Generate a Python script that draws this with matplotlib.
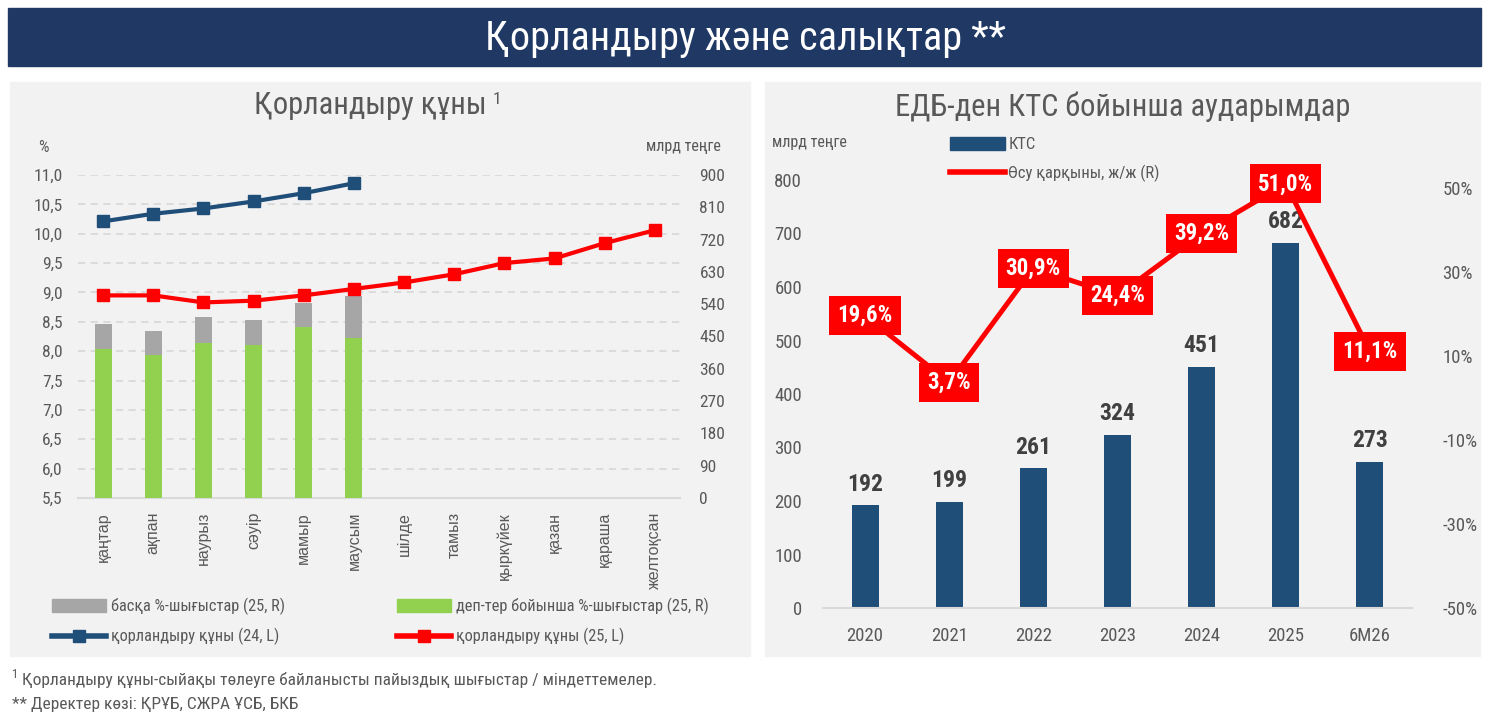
import matplotlib.pyplot as plt
from matplotlib.patches import Rectangle, Patch
from matplotlib.lines import Line2D
import numpy as np

plt.rcParams['font.family'] = ['Roboto Condensed', 'DejaVu Sans Condensed', 'Roboto', 'DejaVu Sans']

# left chart data
months = ['қаңтар', 'ақпан', 'наурыз', 'сәуір', 'мамыр', 'маусым',
          'шілде', 'тамыз', 'қыркүйек', 'қазан', 'қараша', 'желтоқсан']
rate_24 = [10.21, 10.34, 10.43, 10.55, 10.69, 10.86]
rate_25 = [8.95, 8.95, 8.83, 8.86, 8.95, 9.06, 9.17, 9.31, 9.50, 9.58, 9.84, 10.06]
dep_exp = [416, 399, 432, 425, 477, 445]
other_exp = [69, 67, 72, 71, 66, 119]
left_ticks = [5.5, 6.0, 6.5, 7.0, 7.5, 8.0, 8.5, 9.0, 9.5, 10.0, 10.5, 11.0]
right_ticks = [0, 90, 180, 270, 360, 450, 540, 630, 720, 810, 900]

# right chart data
years = ['2020', '2021', '2022', '2023', '2024', '2025', '6M26']
kts = [192, 199, 261, 324, 451, 682, 273]
growth = [19.6, 3.7, 30.9, 24.4, 39.2, 51.0, 11.1]
kts_ticks = [0, 100, 200, 300, 400, 500, 600, 700, 800]
growth_ticks = [-50, -30, -10, 10, 30, 50]

NAVY = '#1F3864'
BAR_BLUE = '#1F4E79'
RED = '#FF0000'
GREEN = '#92D050'
GREY = '#A6A6A6'
TXT = '#595959'

W, H = 1489, 717


def fx(x):
    return x / W


def fy(y):
    return 1 - y / H


def rect(x0, y0, x1, y1):
    return [fx(x0), fy(y1), fx(x1) - fx(x0), fy(y0) - fy(y1)]


fig = plt.figure(figsize=(14.89, 7.17), dpi=100)
fig.patch.set_facecolor('white')

# banner + panels
for (x0, y0, x1, y1, c) in [(8, 8, 1481, 66, NAVY), (10, 82, 750, 656, '#F2F2F2'),
                            (765, 82, 1480, 656, '#F2F2F2')]:
    fig.patches.append(Rectangle((fx(x0), fy(y1)), fx(x1) - fx(x0), fy(y0) - fy(y1),
                                 transform=fig.transFigure, color=c, zorder=-10))
fig.text(fx(745), fy(39), 'Қорландыру және салықтар **', color='white', fontsize=29,
         ha='center', va='center')

# ---------- left chart ----------
ax = fig.add_axes(rect(78, 175, 680, 498))
ax.set_facecolor('none')
ax.set_xlim(-0.5, 11.5)
ax.set_ylim(5.5, 11.0)
ax.set_yticks(left_ticks, [f'{v:.1f}'.replace('.', ',') for v in left_ticks])
ax.set_xticks(range(len(months)), months, rotation=90, family='Liberation Sans',
              fontsize=11.5, color=TXT)
ax.tick_params(length=0, labelsize=12.5, labelcolor=TXT)
ax.tick_params(axis='y', pad=11)
ax.tick_params(axis='x', pad=10, labelsize=11.5)
ax.grid(axis='y', color='#D9D9D9', linestyle=(0, (4, 3)), linewidth=1.3)
ax.set_axisbelow(True)
for s in ['top', 'right', 'left']:
    ax.spines[s].set_visible(False)
ax.spines['bottom'].set_color('#D9D9D9')
ax.spines['bottom'].set_linewidth(1.5)

axr = ax.twinx()
axr.set_ylim(0, 900)
axr.set_yticks(right_ticks, [str(v) for v in right_ticks])
axr.tick_params(length=0, labelsize=12.5, labelcolor=TXT, pad=14)
for s in axr.spines.values():
    s.set_visible(False)
xb = np.arange(len(dep_exp))
axr.bar(xb, dep_exp, width=0.34, color=GREEN)
axr.bar(xb, other_exp, bottom=dep_exp, width=0.34, color=GREY)

axl = fig.add_axes(rect(78, 175, 680, 498), sharex=ax, sharey=ax)
axl.set_facecolor('none')
axl.axis('off')
axl.plot(range(len(rate_24)), rate_24, color=BAR_BLUE, lw=3, marker='s', ms=9)
axl.plot(range(len(rate_25)), rate_25, color=RED, lw=3, marker='s', ms=9)

fig.text(fx(43), fy(147), '%', color=TXT, fontsize=12, ha='center', va='center')
fig.text(fx(683), fy(147), 'млрд теңге', color=TXT, fontsize=11.5, ha='center', va='center')
fig.text(fx(370), fy(106), 'Қорландыру құны', color=TXT, fontsize=22, ha='center', va='center')
fig.text(fx(497), fy(100), '1', color=TXT, fontsize=12.5, ha='center', va='center')

leg_kw = dict(loc='upper left', frameon=False, fontsize=11.8, handlelength=3.3,
              handleheight=0.8, handletextpad=0.3, labelspacing=0.8, labelcolor=TXT)
fig.legend([Patch(color=GREY), Line2D([], [], color=BAR_BLUE, lw=4, marker='s', ms=8)],
           ['басқа %-шығыстар (25, R)', 'қорландыру құны (24, L)'],
           bbox_to_anchor=(fx(37), fy(583)), **leg_kw)
fig.legend([Patch(color=GREEN), Line2D([], [], color=RED, lw=4, marker='s', ms=8)],
           ['деп-тер бойынша %-шығыстар (25, R)', 'қорландыру құны (25, L)'],
           bbox_to_anchor=(fx(382), fy(583)), **leg_kw)

# footnotes
fig.text(fx(12), fy(674), '1', color=TXT, fontsize=9, va='center')
fig.text(fx(22), fy(680), 'Қорландыру құны-сыйақы төлеуге байланысты пайыздық шығыстар / міндеттемелер.',
         color=TXT, fontsize=12.5, va='center')
fig.text(fx(12), fy(704), '** Деректер көзі: ҚРҰБ, СЖРА ҰСБ, БКБ', color=TXT, fontsize=12.5, va='center')

# ---------- right chart ----------
ax2 = fig.add_axes(rect(823, 180, 1412, 608))
ax2.set_facecolor('none')
xk = np.arange(len(years))
ax2.bar(xk, kts, width=0.32, color=BAR_BLUE)
ax2.set_xlim(-0.5, len(years) - 0.5)
ax2.set_ylim(0, 800)
ax2.set_yticks(kts_ticks, [str(v) for v in kts_ticks])
ax2.set_xticks(xk, years)
ax2.tick_params(length=0, labelsize=13.5, labelcolor=TXT)
ax2.tick_params(axis='y', pad=15)
ax2.tick_params(axis='x', pad=14)
for s in ['top', 'right', 'left']:
    ax2.spines[s].set_visible(False)
ax2.spines['bottom'].set_color('#D9D9D9')
ax2.spines['bottom'].set_linewidth(1.5)
for xi, v in zip(xk, kts):
    ax2.annotate(str(v), (xi, v), xytext=(0, 7), textcoords='offset points', ha='center',
                 va='bottom', fontsize=17, fontweight='bold', color='#404040')

ax2r = ax2.twinx()
ax2r.set_ylim(-50, 51.9)
ax2r.set_yticks(growth_ticks, [f'{v}%' for v in growth_ticks])
ax2r.tick_params(length=0, labelsize=13.5, labelcolor=TXT, pad=22)
for s in ax2r.spines.values():
    s.set_visible(False)
ax2r.plot(xk, growth, color=RED, lw=3.6)
for xi, g in zip(xk, growth):
    ax2r.text(xi, g, f'{g:.1f}%'.replace('.', ','), ha='center', va='center', fontsize=16.5,
              fontweight='bold', color='white',
              bbox=dict(boxstyle='square,pad=0.35', fc=RED, ec='none'))

fig.text(fx(1123), fy(107), 'ЕДБ-ден КТС бойынша аударымдар', color=TXT, fontsize=22,
         ha='center', va='center')
fig.text(fx(772), fy(143), 'млрд теңге', color=TXT, fontsize=11.5, va='center')
fig.legend([Patch(color=BAR_BLUE), Line2D([], [], color=RED, lw=4)],
           ['КТС', 'Өсу қарқыны, ж/ж (R)'], loc='upper left',
           bbox_to_anchor=(fx(935), fy(122)), frameon=False, fontsize=12,
           handlelength=3.3, handleheight=0.8, handletextpad=0.2, labelspacing=0.75,
           labelcolor=TXT)

fig.savefig('out.png', dpi=100)
